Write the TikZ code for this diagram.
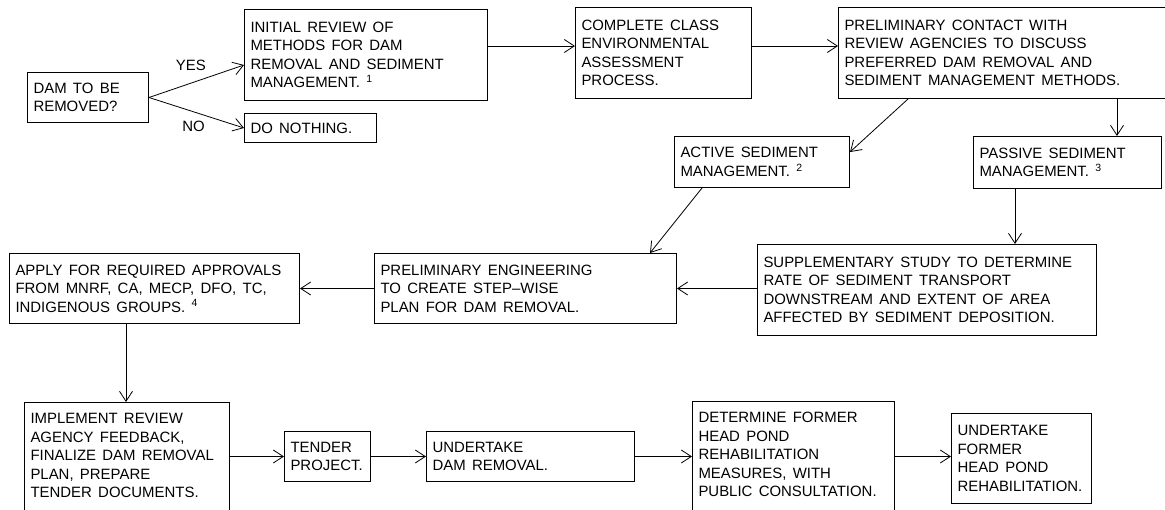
\documentclass[tikz,border=0pt]{standalone}
\usepackage{fontspec}
\setmainfont{Liberation Sans}
\usetikzlibrary{arrows.meta}

\begin{document}
\begin{tikzpicture}[x=1bp,y=-1bp,
    procbox/.style 2 args={draw,line width=1bp,anchor=north west,align=left,
      inner xsep=6bp,inner ysep=4bp,minimum width=#1,minimum height=#2,
      text width=#1-12bp,font=\fontsize{15}{18.5}\selectfont,
      execute at begin node={\spaceskip=6.3bp\relax}},
    openbox/.style={inner ysep=11bp,text depth=105bp},
    flow/.style={-{Straight Barb[length=10bp,width=13bp]},line width=0.8bp},
    tag/.style={font=\fontsize{15}{18.5}\selectfont}]
  \path[use as bounding box,clip] (0,0) rectangle (1165,510);

  \node[procbox={121bp}{50bp}] (dam) at (27,72) {DAM TO BE\\REMOVED?};
  \node[procbox={243bp}{91bp}] (review) at (244,9)
    {INITIAL REVIEW OF\\METHODS FOR DAM\\REMOVAL AND SEDIMENT\\MANAGEMENT. \textsuperscript{1}};
  \node[procbox={132bp}{29bp}] (nothing) at (244,113) {DO NOTHING.};
  \node[procbox={176bp}{91bp}] (classea) at (575,7)
    {COMPLETE CLASS\\ENVIRONMENTAL\\ASSESSMENT\\PROCESS.};
  \node[procbox={340bp}{91bp}] (contact) at (838,7)
    {PRELIMINARY CONTACT WITH\\REVIEW AGENCIES TO DISCUSS\\PREFERRED DAM REMOVAL AND\\SEDIMENT MANAGEMENT METHODS.};
  \node[procbox={175bp}{51bp}] (active) at (674,136)
    {ACTIVE SEDIMENT\\MANAGEMENT. \textsuperscript{2}};
  \node[procbox={188bp}{52bp}] (passive) at (973,136)
    {PASSIVE SEDIMENT\\MANAGEMENT. \textsuperscript{3}};
  \node[procbox={339bp}{91bp}] (supp) at (757,244)
    {SUPPLEMENTARY STUDY TO DETERMINE\\RATE OF SEDIMENT TRANSPORT\\DOWNSTREAM AND EXTENT OF AREA\\AFFECTED BY SEDIMENT DEPOSITION.};
  \node[procbox={302bp}{70bp}] (engin) at (374,253)
    {PRELIMINARY ENGINEERING\\TO CREATE STEP--WISE\\PLAN FOR DAM REMOVAL.};
  \node[procbox={290bp}{70bp}] (apply) at (9,253)
    {APPLY FOR REQUIRED APPROVALS\\FROM MNRF, CA, MECP, DFO, TC,\\INDIGENOUS GROUPS. \textsuperscript{4}};
  \node[procbox={205bp}{0bp},openbox] (implement) at (24,402)
    {IMPLEMENT REVIEW\\AGENCY FEEDBACK,\\FINALIZE DAM REMOVAL\\PLAN, PREPARE\\TENDER DOCUMENTS.};
  \node[procbox={86bp}{50bp}] (tender) at (284,431) {TENDER\\PROJECT.};
  \node[procbox={208bp}{50bp}] (undertake) at (426,431) {UNDERTAKE\\DAM REMOVAL.};
  \node[procbox={202bp}{0bp},openbox] (determine) at (692,401)
    {DETERMINE FORMER\\HEAD POND\\REHABILITATION\\MEASURES, WITH\\PUBLIC CONSULTATION.};
  \node[procbox={140bp}{90bp}] (rehab) at (951,413)
    {UNDERTAKE\\FORMER\\HEAD POND\\REHABILITATION.};

  \draw[flow] (dam.east) -- (review.west |- 0,65) node[tag,pos=0.44,above=9bp] {YES};
  \draw[flow] (dam.east) -- (nothing.west) node[tag,pos=0.47,below=6bp] {NO};
  \draw[flow] (review.east |- 0,46) -- (classea.west |- 0,46);
  \draw[flow] (classea.east |- 0,46) -- (contact.west |- 0,46);
  \draw[flow] (contact.south -| 908,0) -- (active.east |- 0,152);
  \draw[flow] (contact.south -| 1117,0) -- (passive.north -| 1117,0);
  \draw[flow] (active.south -| 702,0) -- (engin.north -| 650,0);
  \draw[flow] (passive.south -| 1015,0) -- (supp.north -| 1015,0);
  \draw[flow] (engin.east -| supp.west) -- (engin.east);
  \draw[flow] (engin.west) -- (apply.east);
  \draw[flow] (apply.south -| 126,0) -- (implement.north -| 126,0);
  \draw[flow] (implement.east |- tender.west) -- (tender.west);
  \draw[flow] (tender.east) -- (undertake.west);
  \draw[flow] (undertake.east) -- (determine.west |- undertake.east);
  \draw[flow] (determine.east |- undertake.east) -- (rehab.west |- undertake.east);
\end{tikzpicture}
\end{document}
